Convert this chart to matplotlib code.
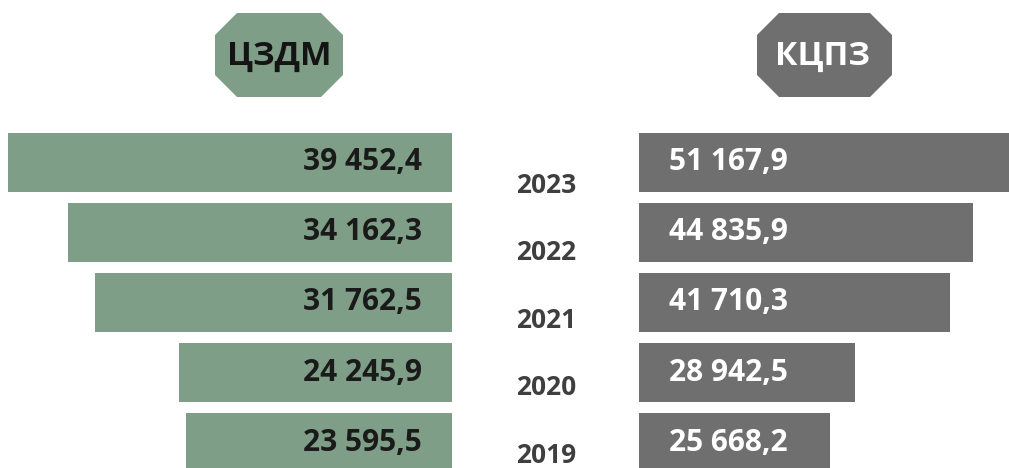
import matplotlib.pyplot as plt
from matplotlib.patches import Polygon

plt.rcParams['font.family'] = ['Open Sans', 'DejaVu Sans']

years = ['2023', '2022', '2021', '2020', '2019']
czdm = [39452.4, 34162.3, 31762.5, 24245.9, 23595.5]
kcpz = [51167.9, 44835.9, 41710.3, 28942.5, 25668.2]
czdm_labels = ['39 452,4', '34 162,3', '31 762,5', '24 245,9', '23 595,5']
kcpz_labels = ['51 167,9', '44 835,9', '41 710,3', '28 942,5', '25 668,2']

W, H = 1009, 468
green = '#7f9e88'
grey = '#6f6f6f'

fig = plt.figure(figsize=(W / 100, H / 100), dpi=100)

# bar rows: first centre at 162.5 px, pitch 70 px
pitch = 70.0
c0 = 162.5
ylim = ((H - c0) / pitch, -c0 / pitch)
ypos = list(range(len(years)))

# left (mirrored) panel, 0 at x=452 px
sl = 444 / czdm[0]
axL = fig.add_axes([0, 0, 452 / W, 1])
axL.barh(ypos, czdm, height=59 / pitch, color=green)
axL.set_xlim(452 / sl, 0)
axL.set_ylim(*ylim)
axL.axis('off')
for y, lab in zip(ypos, czdm_labels):
    axL.text(30 / sl, y, lab, ha='right', va='center', fontsize=21.5,
             fontweight='bold', color='#1a1a1a')

# right panel, 0 at x=639 px
sr = 334 / kcpz[1]
axR = fig.add_axes([639 / W, 0, (W - 639) / W, 1])
axR.barh(ypos, kcpz, height=59 / pitch, color=grey)
axR.set_xlim(0, (W - 639) / sr)
axR.set_ylim(*ylim)
axR.axis('off')
for y, lab in zip(ypos, kcpz_labels):
    axR.text(30 / sr, y, lab, ha='left', va='center', fontsize=21.5,
             fontweight='bold', color='white')

# years in the middle
ypitch = 67.5
yc0 = 185
axM = fig.add_axes([452 / W, 0, (639 - 452) / W, 1])
axM.set_xlim(0, 1)
axM.set_ylim((H - yc0) / ypitch, -yc0 / ypitch)
axM.axis('off')
for y, lab in zip(ypos, years):
    axM.text(0.505, y, lab, ha='center', va='center', fontsize=19,
             fontweight='bold', color='#3f3f3f')

# octagon headers
axT = fig.add_axes([0, 0, 1, 1])
axT.set_xlim(0, W)
axT.set_ylim(H, 0)
axT.axis('off')


def octagon(ax, x0, x1, y0, y1, c, color):
    pts = [(x0 + c, y0), (x1 - c, y0), (x1, y0 + c), (x1, y1 - c),
           (x1 - c, y1), (x0 + c, y1), (x0, y1 - c), (x0, y0 + c)]
    ax.add_patch(Polygon(pts, closed=True, facecolor=color, edgecolor='none'))


octagon(axT, 215, 343, 13, 97, 22, green)
axT.text(279, 56, 'ЦЗДМ', ha='center', va='center', fontsize=24,
         fontweight='bold', color='#141414')
octagon(axT, 757, 892, 13, 97, 22, grey)
axT.text(822, 56, 'КЦПЗ', ha='center', va='center', fontsize=24,
         fontweight='bold', color='white')

fig.savefig('out.png', dpi=100)
